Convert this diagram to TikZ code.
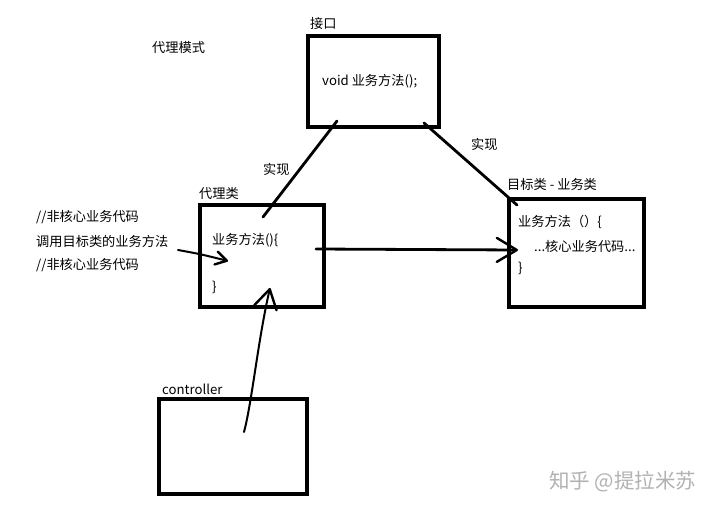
\documentclass[tikz,border=0pt]{standalone}
\usepackage{fontspec}
\setmainfont{Noto Sans CJK SC}
\usetikzlibrary{arrows.meta}
\begin{document}
\begin{tikzpicture}[x=1pt,y=-1pt,
  box/.style={draw, line width=3.2pt, rectangle, inner sep=0pt},
  lbl/.style={anchor=west, inner sep=0pt, font=\fontsize{13.2pt}{15pt}\selectfont},
  conn/.style={line width=2.8pt, line cap=round, line join=round},
  barb/.style={-{Straight Barb[length=#1,width=1.2*#1,line width=2.4pt,round]}}]
\useasboundingbox[fill=white] (0,0) rectangle (720,509);

% boxes
\node[box, minimum width=131pt, minimum height=91pt] (iface) at (373.5,81.5) {};
\node[box, minimum width=124pt, minimum height=102pt] (proxy) at (262,256) {};
\node[box, minimum width=135pt, minimum height=108pt] (target) at (576.5,253) {};
\node[box, minimum width=148pt, minimum height=95pt] (ctrl) at (233,446.5) {};

% texts
\node[lbl] (title) at (152,47) {代理模式};
\node[lbl] (ifacelbl) at (310,24) {接口};
\node[lbl] (ifacetxt) at (322,81) {void 业务方法();};
\node[lbl] (impl1) at (263,169) {实现};
\node[lbl] (impl2) at (471,144) {实现};
\node[lbl] (proxylbl) at (199,193) {代理类};
\node[lbl] (targetlbl) at (507,184) {目标类 - 业务类};
\node[lbl] (c1) at (36,217) {//非核心业务代码};
\node[lbl] (c2) at (36,241) {调用目标类的业务方法};
\node[lbl] (c3) at (36,265) {//非核心业务代码};
\node[lbl] (ptxt1) at (212,240) {业务方法()\{};
\node[lbl] (ptxt2) at (212,287) {\}};
\node[lbl] (ttxt1) at (518,222) {业务方法（）\{};
\node[lbl] (ttxt2) at (534,246) {...核心业务代码...};
\node[lbl] (ttxt3) at (518,268) {\}};
\node[lbl] (ctrllbl) at (162,389) {controller};
\node[lbl, text=black!30, font=\fontsize{20.5pt}{22pt}\selectfont] (wm) at (549,482) {知乎 @提拉米苏};

% connector end points
\coordinate (a1) at (337,121);
\coordinate (a2) at (263,217);
\coordinate (b1) at (424,123);
\coordinate (b2) at (517,205);
\coordinate (h1) at (316,249);
\coordinate (h2) at (518,250);
\coordinate (m1) at (178,250);
\coordinate (m2) at (228,261);
\coordinate (k1) at (244,432);
\coordinate (k2) at (270,288);

\draw[conn] (a1) -- (a2);
\draw[conn] (b1) -- (b2);
\draw[conn, barb=20pt] (h1) -- (h2);
\draw[conn, line width=2pt, barb=11pt] (m1) .. controls (200,254) .. (m2);
\draw[conn, line width=2pt, barb=19pt] (k1) .. controls (252,402) and (258,340) .. (k2);
\end{tikzpicture}
\end{document}
